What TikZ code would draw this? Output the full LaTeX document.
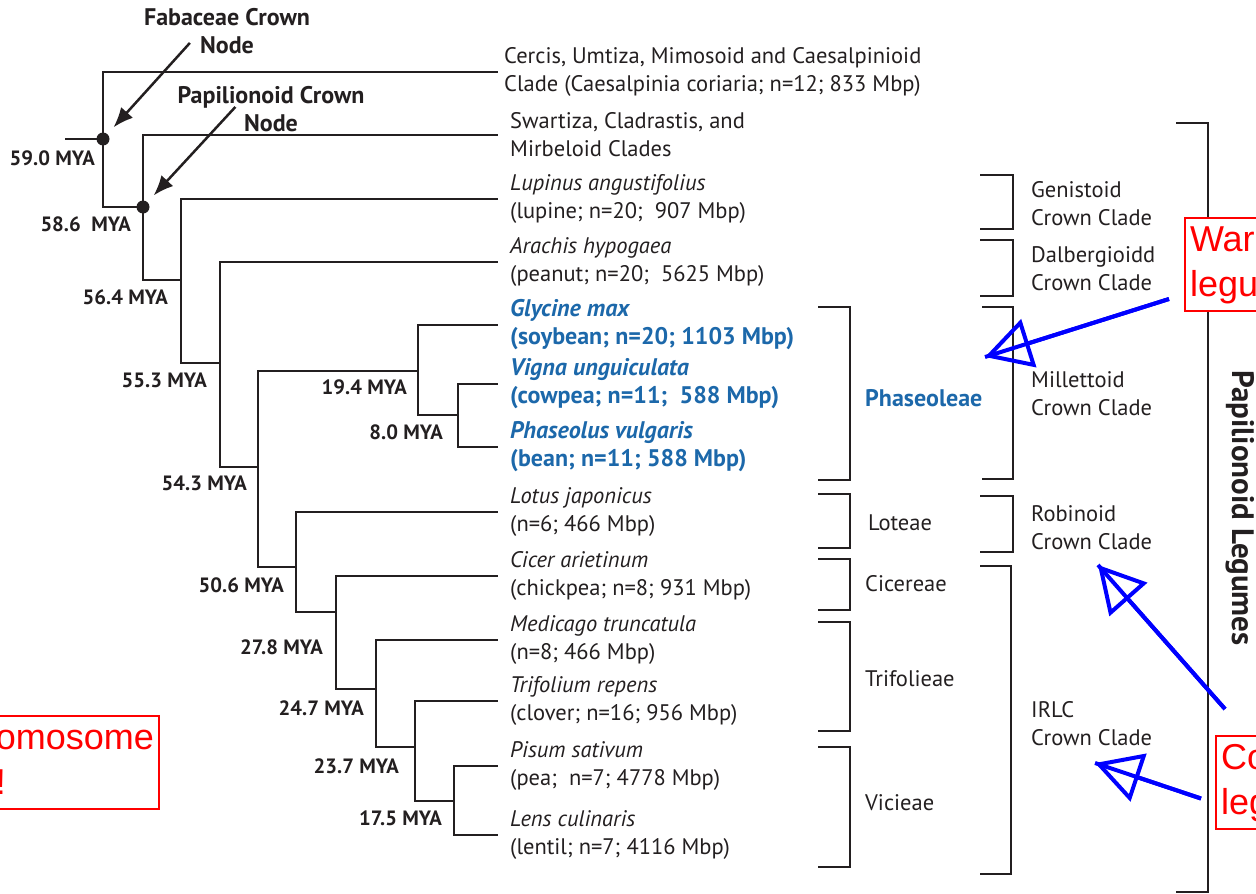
\documentclass[tikz,border=0pt]{standalone}
\usepackage{fontspec}
\setmainfont{PT Sans}
\newfontfamily\notefont{Liberation Sans}
\usetikzlibrary{arrows.meta,positioning}
\definecolor{treeblack}{RGB}{35,31,32}
\definecolor{phaseblue}{RGB}{28,104,170}
\definecolor{noteblue}{RGB}{0,0,255}
\definecolor{notered}{RGB}{255,0,0}

\begin{document}
\begin{tikzpicture}[x=1pt,y=-1pt,
  branch/.style={treeblack, line width=2.2pt},
  bracket/.style={treeblack, line width=2pt},
  dot/.style={circle, fill=treeblack, inner sep=0pt, minimum size=13pt},
  leaf/.style={anchor=west, align=left, inner xsep=12pt, inner ysep=0pt, text=treeblack, font=\fontsize{22.5}{28}\selectfont},
  phase/.style={leaf, text=phaseblue, font=\bfseries\fontsize{24}{28}\selectfont},
  age/.style={anchor=east, inner sep=0pt, text=treeblack, font=\bfseries\fontsize{20.7}{24}\selectfont},
  crown/.style={align=center, inner sep=0pt, text=treeblack, font=\bfseries\fontsize{24}{28}\selectfont},
  tribe/.style={anchor=west, inner sep=0pt, text=treeblack, font=\fontsize{22.5}{28}\selectfont},
  clade/.style={anchor=west, align=left, inner sep=0pt, text=treeblack, font=\fontsize{22.5}{28}\selectfont},
  pointer/.style={treeblack, line width=2.5pt, -{Latex[length=20pt,width=16pt]}, shorten >=9pt},
  note/.style={draw=notered, line width=2pt, fill=white, text=notered, align=left, inner xsep=5pt, inner ysep=1.5pt, font=\notefont\fontsize{36}{45}\selectfont},
  hint/.style={noteblue, line width=4pt, -{Triangle[open, length=46pt, width=50pt]}},
  hintline/.style={noteblue, line width=4pt}
]
\useasboundingbox (0,0) rectangle (1256,894);

\draw [bracket] (1176,123) -- (1208,123) -- (1208,892) -- (1176,892);
\node [rotate=-90, anchor=base, inner sep=0pt, text=treeblack, font=\bfseries\fontsize{31}{36}\selectfont] (papleg) at (1232,508) {Papilionoid Legumes};

\node [note, anchor=north west] (warmnote) at (1184,217) {\strut War\\\strut legu};
\node [note, anchor=north west] (coolnote) at (1215,735) {\strut Co\\\strut leg};
\node [note, anchor=north east] (chromnote) at (160,715) {\strut omosome\\\strut !};

\coordinate (root) at (65,139);
\node [dot] (n590) at (103,139) {};
\node [dot] (n586) at (143,207) {};
\coordinate (n564) at (181,280);
\coordinate (n553) at (220,363);
\coordinate (n543) at (258,467);
\coordinate (n194) at (418,371);
\coordinate (n80) at (458,415);
\coordinate (n506) at (296,567);
\coordinate (n278) at (336,612);
\coordinate (n247) at (376,689);
\coordinate (n237) at (415,747);
\coordinate (n175) at (454,801);

\node [leaf, inner xsep=6pt] (cercis) at (498,72) {Cercis, Umtiza, Mimosoid and Caesalpinioid\\Clade (Caesalpinia coriaria; n=12; 833 Mbp)};
\node [leaf] (swartiza) at (498,135) {Swartiza, Cladrastis, and\\Mirbeloid Clades};
\node [leaf] (lupinus) at (498,199) {\textit{Lupinus angustifolius}\\(lupine; n=20;\ \ 907 Mbp)};
\node [leaf] (arachis) at (498,262) {\textit{Arachis hypogaea}\\(peanut; n=20;\ \ 5625 Mbp)};
\node [phase] (glycine) at (498,325) {\textit{Glycine max}\\(soybean; n=20; 1103 Mbp)};
\node [phase] (vigna) at (498,384) {\textit{Vigna unguiculata}\\(cowpea; n=11;\ \ 588 Mbp)};
\node [phase] (phaseolus) at (498,447) {\textit{Phaseolus vulgaris}\\(bean; n=11; 588 Mbp)};
\node [leaf] (lotus) at (498,512) {\textit{Lotus japonicus}\\(n=6; 466 Mbp)};
\node [leaf] (cicer) at (498,576) {\textit{Cicer arietinum}\\(chickpea; n=8; 931 Mbp)};
\node [leaf] (medicago) at (498,640) {\textit{Medicago truncatula}\\(n=8; 466 Mbp)};
\node [leaf] (trifolium) at (498,701) {\textit{Trifolium repens}\\(clover; n=16; 956 Mbp)};
\node [leaf] (pisum) at (498,766) {\textit{Pisum sativum}\\(pea;\ \ n=7; 4778 Mbp)};
\node [leaf] (lens) at (498,835) {\textit{Lens culinaris}\\(lentil; n=7; 4116 Mbp)};

\draw [branch] (root) -- (n590.center);
\draw [branch] (n590.center) |- (cercis.west);
\draw [branch] (n590.center) |- (n586.center);
\draw [branch] (n586.center) |- (swartiza.west);
\draw [branch] (n586.center) |- (n564);
\draw [branch] (n564) |- (lupinus.west);
\draw [branch] (n564) |- (n553);
\draw [branch] (n553) |- (arachis.west);
\draw [branch] (n553) |- (n543);
\draw [branch] (n543) |- (n194);
\draw [branch] (n543) |- (n506);
\draw [branch] (n194) |- (glycine.west);
\draw [branch] (n194) |- (n80);
\draw [branch] (n80) |- (vigna.west);
\draw [branch] (n80) |- (phaseolus.west);
\draw [branch] (n506) |- (lotus.west);
\draw [branch] (n506) |- (n278);
\draw [branch] (n278) |- (cicer.west);
\draw [branch] (n278) |- (n247);
\draw [branch] (n247) |- (medicago.west);
\draw [branch] (n247) |- (n237);
\draw [branch] (n237) |- (trifolium.west);
\draw [branch] (n237) |- (n175);
\draw [branch] (n175) |- (pisum.west);
\draw [branch] (n175) |- (lens.west);

\node [age] (a590) at (95,158) {59.0 MYA};
\node [age] (a586) at (131,224) {58.6\ \ MYA};
\node [age] (a564) at (168,297) {56.4 MYA};
\node [age] (a553) at (207,380) {55.3 MYA};
\node [age] (a543) at (247,483) {54.3 MYA};
\node [age] (a194) at (407,387) {19.4 MYA};
\node [age] (a80) at (443,432) {8.0 MYA};
\node [age] (a506) at (284,585) {50.6 MYA};
\node [age] (a278) at (323,647) {27.8 MYA};
\node [age] (a247) at (364,708) {24.7 MYA};
\node [age] (a237) at (399,766) {23.7 MYA};
\node [age] (a175) at (442,818) {17.5 MYA};

\node [crown] (fabnode) at (227,31) {Fabaceae Crown\\Node};
\node [crown] (papnode) at (271,109) {Papilionoid Crown\\Node};
\draw [pointer] ([shift={(46,-11)}]fabnode.south west) -- (n590);
\draw [pointer] ([shift={(58,-25)}]papnode.south west) -- (n586);

\draw [bracket] (818,307) -- (850,307) -- (850,480) -- (818,480);
\draw [bracket] (818,494) -- (850,494) -- (850,548) -- (818,548);
\draw [bracket] (818,559) -- (850,559) -- (850,610) -- (818,610);
\draw [bracket] (818,622) -- (850,622) -- (850,731) -- (818,731);
\draw [bracket] (818,747) -- (850,747) -- (850,867) -- (818,867);
\node [tribe, text=phaseblue, font=\bfseries\fontsize{24}{28}\selectfont] (phaseoleae) at (865,398) {Phaseoleae};
\node [tribe] (loteae) at (868,523) {Loteae};
\node [tribe] (cicereae) at (865,584) {Cicereae};
\node [tribe] (trifolieae) at (865,679) {Trifolieae};
\node [tribe] (vicieae) at (865,803) {Vicieae};

\draw [bracket] (980,175) -- (1013,175) -- (1013,229) -- (980,229);
\draw [bracket] (980,240) -- (1013,240) -- (1013,296) -- (980,296);
\draw [bracket] (982,307) -- (1013,307) -- (1013,479) -- (982,479);
\draw [bracket] (980,496) -- (1013,496) -- (1013,552) -- (980,552);
\draw [bracket] (980,566) -- (1011,566) -- (1011,874) -- (980,874);
\node [clade] (genistoid) at (1031,204) {Genistoid\\Crown Clade};
\node [clade] (dalbergioid) at (1031,269) {Dalbergioidd\\Crown Clade};
\node [clade] (millettoid) at (1031,394) {Millettoid\\Crown Clade};
\node [clade] (robinoid) at (1031,528) {Robinoid\\Crown Clade};
\node [clade] (irlc) at (1031,724) {IRLC\\Crown Clade};

\coordinate (millettip) at (985,357);
\coordinate (robintip) at (1098,565);
\coordinate (irlctip) at (1095,763);
\draw [hintline] ([shift={(-15,-13)}]warmnote.south west) -- (millettip);
\draw [hint] ([shift={(-15,-13)}]warmnote.south west) -- (millettip);
\draw [hintline] ([shift={(10,-26)}]coolnote.north west) -- (robintip);
\draw [hint] ([shift={(10,-26)}]coolnote.north west) -- (robintip);
\draw [hintline] ([shift={(-14,16)}]coolnote.west) -- (irlctip);
\draw [hint] ([shift={(-14,16)}]coolnote.west) -- (irlctip);

\end{tikzpicture}
\end{document}
